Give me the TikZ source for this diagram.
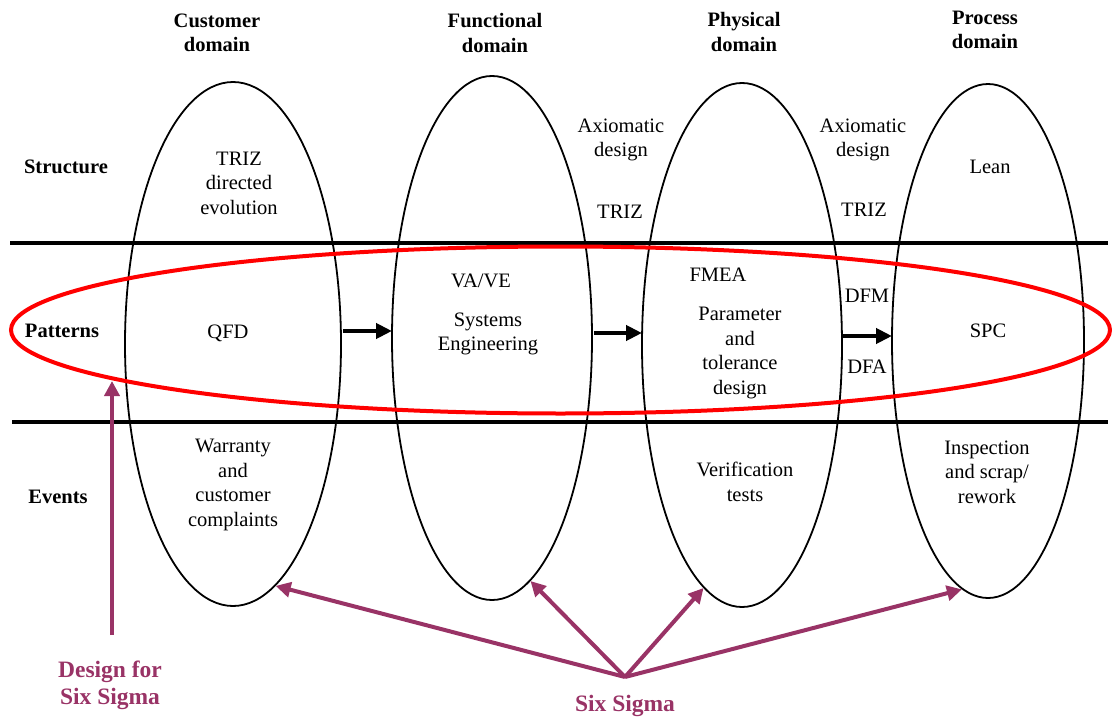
\documentclass[tikz,border=0pt]{standalone}
\usepackage{fontspec}
\setmainfont{Liberation Serif}
\usetikzlibrary{shapes.geometric,arrows.meta}
\definecolor{plum}{RGB}{153,51,102}
\definecolor{ringred}{RGB}{255,0,0}
\begin{document}
\begin{tikzpicture}[x=1pt,y=-1pt,
  dom/.style={ellipse,draw=black,line width=1.8pt,inner sep=0pt},
  txt/.style={align=center,inner sep=0pt,font=\fontsize{20.5}{24.5}\selectfont},
  btxt/.style={txt,font=\fontsize{20.5}{24.5}\selectfont\bfseries},
  ptxt/.style={align=center,inner sep=0pt,text=plum,font=\fontsize{23.5}{27}\selectfont\bfseries},
  band/.style={line width=4pt,black},
  flow/.style={line width=4pt,-{Triangle[length=16pt,width=15pt]}},
  sixarrow/.style={line width=4pt,plum,-{Triangle[length=15pt,width=15pt]}}]
\useasboundingbox (0,0) rectangle (1112,720);
% domain ellipses
\node[dom,minimum width=216pt,minimum height=524pt] (cust) at (233,344) {};
\node[dom,minimum width=200pt,minimum height=524pt] (func) at (492,338) {};
\node[dom,minimum width=200pt,minimum height=524pt] (phys) at (742,345) {};
\node[dom,minimum width=192pt,minimum height=514pt] (proc) at (988,341) {};
% bands
\coordinate (l1a) at (10,243); \coordinate (l1b) at (1108,243);
\coordinate (l2a) at (12,422); \coordinate (l2b) at (1108,422);
\draw[band] (l1a) -- (l1b);
\draw[band] (l2a) -- (l2b);
% red ellipse
\node[ellipse,draw=ringred,line width=4pt,inner sep=0pt,minimum width=1099pt,minimum height=167pt] (red) at (560.5,330) {};
% headers
\node[btxt] (cd) at (217,33) {Customer\\domain};
\node[btxt] (fd) at (495,33) {Functional\\domain};
\node[btxt] (pd) at (744,32) {Physical\\domain};
\node[btxt] (prd) at (985,30) {Process\\domain};
% row labels
\node[btxt] (struct) at (66,167) {Structure};
\node[btxt] (patt) at (62,331) {Patterns};
\node[btxt] (events) at (58,497) {Events};
% customer domain
\node[txt] (trizde) at (239,183) {TRIZ\\directed\\evolution};
\node[txt] (qfd) at (228,333) {QFD};
\node[txt] (warr) at (233,485) {Warranty\\and\\customer\\complaints};
% functional
\node[txt] (vave) at (481,281) {VA/VE};
\node[txt] (syse) at (488,334) {Systems\\Engineering};
% between
\node[txt] (ax1) at (621,140) {Axiomatic\\design};
\node[txt] (triz2) at (620,212) {TRIZ};
\node[txt] (ax2) at (863,140) {Axiomatic\\design};
\node[txt] (triz3) at (864,210) {TRIZ};
\node[txt] (dfm) at (867,296) {DFM};
\node[txt] (dfa) at (867,367) {DFA};
% physical
\node[txt] (fmea) at (718,275) {FMEA};
\node[txt] (param) at (740,353) {Parameter\\and\\tolerance\\design};
\node[txt] (verif) at (745,482) {Verification\\tests};
% process
\node[txt] (lean) at (990,167) {Lean};
\node[txt] (spc) at (988,331) {SPC};
\node[txt] (insp) at (987,472) {Inspection\\and scrap/\\rework};
% flow arrows
\coordinate (f1s) at (343,331); \coordinate (f1e) at (392,331);
\coordinate (f2s) at (594,333); \coordinate (f2e) at (642,333);
\coordinate (f3s) at (843,336); \coordinate (f3e) at (892,336);
\draw[flow] (f1s) -- (f1e);
\draw[flow] (f2s) -- (f2e);
\draw[flow] (f3s) -- (f3e);
% six sigma
\node[ptxt] (ss) at (625,706) {Six Sigma};
\coordinate (hub) at (625,677);
\draw[sixarrow] (hub) -- (cust.-80);
\draw[sixarrow] (hub) -- (func.-81.5);
\draw[sixarrow] (hub) -- (phys.-99.3);
\draw[sixarrow] (hub) -- (proc.-96.9);
% design for six sigma
\node[ptxt] (dfss) at (110,685) {Design for\\Six Sigma};
\coordinate (dfssbase) at (112,635);
\coordinate (dfsstip) at (112,381);
\draw[sixarrow] (dfssbase) -- (dfsstip);
\end{tikzpicture}
\end{document}
